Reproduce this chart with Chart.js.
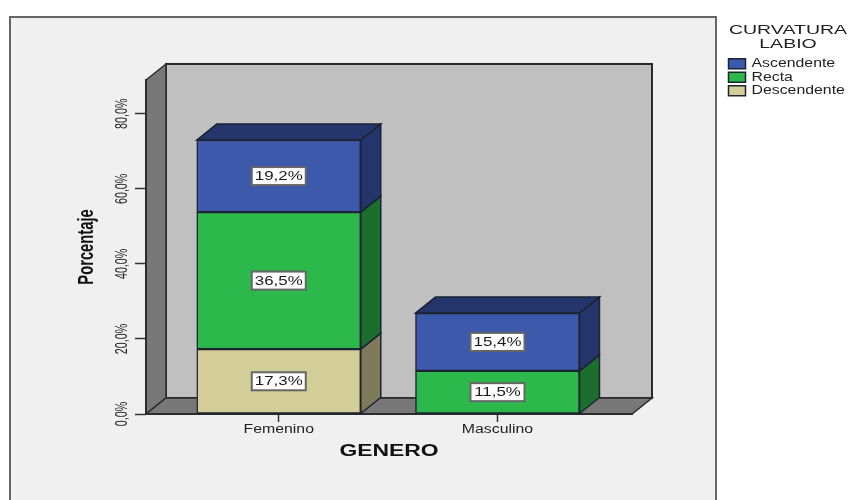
<!DOCTYPE html>
<html lang="es">
<head>
  <meta charset="UTF-8">
  <title>Curvatura labio por genero</title>
  <script src="https://cdn.jsdelivr.net/npm/chart.js"></script>
  <style>
    body { margin: 0; background: #fff; }
    canvas { display: block; }
  </style>
</head>
<body>
  <canvas id="generoChart" width="851" height="500"></canvas>
  <script>
    var categories = ['Femenino', 'Masculino'];
    var positions = [0, 1];
    var descendente = [17.3, null];
    var recta = [36.5, 11.5];
    var ascendente = [19.2, 15.4];
    var yTicks = [0, 20, 40, 60, 80];

    var DEPTH_X = 20, DEPTH_Y = 16;
    var sideColors = ['#7f7a5a', '#1c6e2e', '#24356b'];
    var FONT = '"Liberation Sans", Arial, sans-serif';

    function pct(v) {
      return v.toFixed(1).replace('.', ',') + '%';
    }

    function poly(ctx, pts, fill, stroke, lw) {
      ctx.beginPath();
      ctx.moveTo(pts[0][0], pts[0][1]);
      for (var i = 1; i < pts.length; i++) ctx.lineTo(pts[i][0], pts[i][1]);
      ctx.closePath();
      ctx.fillStyle = fill;
      ctx.fill();
      ctx.strokeStyle = stroke;
      ctx.lineWidth = lw;
      ctx.stroke();
    }

    // the reference text is stretched sideways, rotated text is squeezed instead
    function textScale(rotated, size) {
      if (rotated) return 0.67;
      if (size >= 15) return 1.43;
      return size >= 13 ? 1.5 : 1.32;
    }

    var stretchText = {
      id: 'stretchText',
      beforeInit: function (chart) {
        var ctx = chart.ctx;
        var fillText = ctx.fillText;
        ctx.fillText = function (text, x, y) {
          var rotated = Math.abs(ctx.getTransform().a) < 0.5;
          var size = parseFloat(/([\d.]+)px/.exec(ctx.font)[1]);
          ctx.save();
          ctx.translate(x, y);
          ctx.scale(textScale(rotated, size), 1);
          fillText.call(ctx, text, 0, 0);
          ctx.restore();
        };
      }
    };

    var box3d = {
      id: 'box3d',
      afterLayout: function (chart) {
        var legend = chart.legend;
        legend.left = 727;
        legend.right = 849;
        legend.width = 122;
        legend.top = 24;
        legend.bottom = 110;
      },
      beforeDraw: function (chart) {
        var ctx = chart.ctx, a = chart.chartArea;
        ctx.save();
        ctx.fillStyle = '#f0f0f0';
        ctx.fillRect(10, 17, 706, 490);
        ctx.strokeStyle = '#666';
        ctx.lineWidth = 2;
        ctx.strokeRect(10, 17, 706, 490);

        poly(ctx, [[a.left + DEPTH_X, a.top - DEPTH_Y], [a.right + DEPTH_X, a.top - DEPTH_Y],
          [a.right + DEPTH_X, a.bottom - DEPTH_Y], [a.left + DEPTH_X, a.bottom - DEPTH_Y]], '#c0c0c0', '#2b2b2b', 2);
        poly(ctx, [[a.left, a.top], [a.left + DEPTH_X, a.top - DEPTH_Y],
          [a.left + DEPTH_X, a.bottom - DEPTH_Y], [a.left, a.bottom]], '#787878', '#2b2b2b', 1.5);
        poly(ctx, [[a.left, a.bottom], [a.left + DEPTH_X, a.bottom - DEPTH_Y],
          [a.right + DEPTH_X, a.bottom - DEPTH_Y], [a.right, a.bottom]], '#787878', '#2b2b2b', 1.5);
        ctx.restore();
      },
      beforeDatasetsDraw: function (chart) {
        var ctx = chart.ctx;
        ctx.save();
        chart.data.datasets.forEach(function (ds, i) {
          chart.getDatasetMeta(i).data.forEach(function (bar, j) {
            if (ds.data[j] === null) return;
            var left = bar.x - bar.width / 2, right = bar.x + bar.width / 2;
            poly(ctx, [[right, bar.y], [right + DEPTH_X, bar.y - DEPTH_Y],
              [right + DEPTH_X, bar.base - DEPTH_Y], [right, bar.base]], sideColors[i], '#1c2433', 1.5);
            // top face only on the last segment of the stack
            var above = chart.data.datasets.slice(i + 1).some(function (d) { return d.data[j] !== null; });
            if (!above) {
              poly(ctx, [[left, bar.y], [left + DEPTH_X, bar.y - DEPTH_Y],
                [right + DEPTH_X, bar.y - DEPTH_Y], [right, bar.y]], sideColors[i], '#1c2433', 1.5);
            }
          });
        });
        ctx.restore();
      },
      afterDatasetsDraw: function (chart) {
        var ctx = chart.ctx;
        ctx.save();
        chart.data.datasets.forEach(function (ds, i) {
          chart.getDatasetMeta(i).data.forEach(function (bar, j) {
            if (ds.data[j] === null) return;
            var cy = (bar.y + bar.base) / 2;
            ctx.fillStyle = '#fff';
            ctx.strokeStyle = '#666';
            ctx.lineWidth = 2;
            ctx.fillRect(bar.x - 27, cy - 9, 54, 18);
            ctx.strokeRect(bar.x - 27, cy - 9, 54, 18);
            ctx.fillStyle = '#1a1a1a';
            ctx.font = '12.8px ' + FONT;
            ctx.textAlign = 'center';
            ctx.textBaseline = 'middle';
            ctx.fillText(pct(ds.data[j]), bar.x, cy + 0.5);
          });
        });
        ctx.restore();
      }
    };

    new Chart(document.getElementById('generoChart'), {
      type: 'bar',
      data: {
        labels: positions,
        datasets: [
          { label: 'Descendente', data: descendente, backgroundColor: '#d3ce97' },
          { label: 'Recta', data: recta, backgroundColor: '#2db84b' },
          { label: 'Ascendente', data: ascendente, backgroundColor: '#3d59ab' }
        ]
      },
      options: {
        responsive: false,
        animation: false,
        layout: { padding: { top: 80, right: 219, bottom: 0, left: 0 } },
        datasets: {
          bar: { barThickness: 164, borderColor: '#1c2433', borderWidth: 1.5, borderSkipped: false }
        },
        plugins: {
          tooltip: { enabled: false },
          legend: {
            position: 'chartArea',
            align: 'start',
            reverse: true,
            labels: {
              boxWidth: 17,
              boxHeight: 10,
              padding: 1.5,
              color: '#222',
              font: { family: FONT, size: 12 }
            },
            title: {
              display: true,
              text: ['CURVATURA', 'LABIO'],
              color: '#222',
              padding: { top: 0, bottom: 18 },
              font: { family: FONT, size: 13, lineHeight: 1.1 }
            }
          }
        },
        scales: {
          x: {
            type: 'linear',
            stacked: true,
            offset: false,
            z: 1,
            min: -0.607,
            max: 1.615,
            afterFit: function (scale) { scale.height = 86; },
            afterBuildTicks: function (scale) {
              scale.ticks = positions.map(function (p) { return { value: p }; });
            },
            grid: {
              offset: false,
              drawOnChartArea: false,
              color: '#333',
              tickLength: 8,
              tickWidth: 1.5
            },
            border: { color: '#2b2b2b', width: 2 },
            ticks: {
              maxRotation: 0,
              padding: 0,
              color: '#222',
              font: { family: FONT, size: 12 },
              callback: function (v) { return categories[v]; }
            },
            title: {
              display: true,
              text: 'GENERO',
              color: '#111',
              align: 'center',
              padding: { top: 0, bottom: 39 },
              font: { family: FONT, size: 16, weight: 'bold' }
            }
          },
          y: {
            stacked: true,
            min: 0,
            max: 89,
            afterFit: function (scale) { scale.width = 146; },
            afterBuildTicks: function (scale) {
              scale.ticks = yTicks.map(function (v) { return { value: v }; });
            },
            grid: {
              drawOnChartArea: false,
              color: '#333',
              tickLength: 11,
              tickWidth: 1.5
            },
            border: { color: '#2b2b2b', width: 2 },
            ticks: {
              minRotation: 90,
              crossAlign: 'center',
              padding: -10,
              color: '#222',
              font: { family: FONT, size: 16 },
              callback: function (v) { return pct(v); }
            },
            title: {
              display: true,
              text: 'Porcentaje',
              color: '#111',
              padding: { top: 74, bottom: 0 },
              font: { family: FONT, size: 22, weight: 'bold' }
            }
          }
        }
      },
      plugins: [stretchText, box3d]
    });
  </script>
</body>
</html>
